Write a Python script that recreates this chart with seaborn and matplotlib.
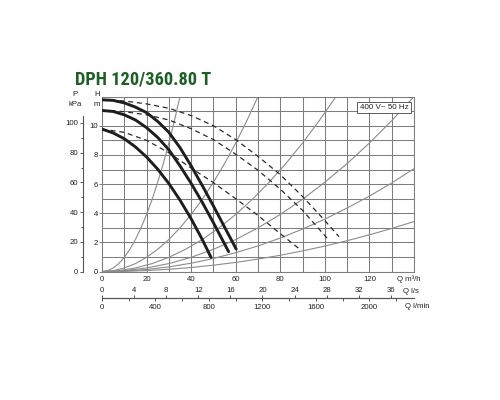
import os

import matplotlib
matplotlib.use("Agg")
import matplotlib.pyplot as plt
import seaborn as sns
from matplotlib import font_manager
from matplotlib.ticker import FixedLocator

sns.set_style("white")
plt.rcParams["font.family"] = ["Liberation Sans", "DejaVu Sans"]

# single pump curves (solid), Q in m3/h, H in m
q_max = [0, 5, 10, 15, 20, 25, 30, 35, 40, 45, 50, 55, 60.2]
h_max = [11.78, 11.74, 11.57, 11.28, 10.9, 10.3, 9.55, 8.5, 7.25, 5.9, 4.5, 3.05, 1.55]
q_mid = [0, 5, 10, 15, 20, 25, 30, 35, 40, 45, 50, 56.8]
h_mid = [11.05, 10.98, 10.75, 10.4, 9.87, 9.2, 8.35, 7.25, 6.05, 4.75, 3.35, 1.37]
q_min = [0, 5, 10, 15, 20, 25, 30, 35, 40, 45, 48.9]
h_min = [9.77, 9.51, 9.11, 8.55, 7.86, 7.02, 6.04, 4.9, 3.62, 2.2, 0.98]

# twin pump curves (dashed)
q_max2 = [0, 10, 20, 30, 40, 50, 60, 70, 80, 90, 100, 106.3]
h_max2 = [11.78, 11.7, 11.5, 11.2, 10.7, 10.0, 9.05, 7.9, 6.65, 5.15, 3.5, 2.4]
q_mid2 = [0, 10, 20, 30, 40, 50, 60, 70, 80, 90, 101.7]
h_mid2 = [11.05, 10.97, 10.75, 10.4, 9.8, 9.05, 8.05, 6.95, 5.65, 4.2, 2.17]
q_min2 = [0, 10, 20, 30, 40, 50, 60, 70, 80, 88.2]
h_min2 = [9.77, 9.55, 9.0, 8.15, 7.1, 6.1, 5.0, 3.85, 2.6, 1.6]

# system curves (thin grey)
sys_h = [0, 0.06, 0.25, 0.55, 0.98, 1.53, 2.2, 3.0, 3.92, 4.96, 6.13, 7.41, 8.82, 10.35, 12.0]
sys_q1 = [0, 2.5, 5, 7.5, 10, 12.5, 15, 17.5, 20, 22.5, 25, 27.5, 30, 32.5, 35]
sys_q2 = [0, 5, 10, 15, 20, 25, 30, 35, 40, 45, 50, 55, 60, 65, 70]
sys_q3 = [0, 7.5, 15, 22.5, 30, 37.5, 45, 52.5, 60, 67.5, 75, 82.5, 90, 97.5, 105]
sys_q4 = [0, 10, 20, 30, 40, 50, 60, 70, 80, 90, 100, 110, 120, 130, 140]
sys_h5 = [0, 0.036, 0.144, 0.324, 0.576, 0.9, 1.3, 1.76, 2.3, 2.92, 3.6, 4.36, 5.18, 6.08, 7.06]
sys_h6 = [0, 0.018, 0.07, 0.16, 0.28, 0.44, 0.63, 0.86, 1.12, 1.42, 1.75, 2.12, 2.52, 2.96, 3.43]

q_ticks = [0, 20, 40, 60, 80, 100, 120]
h_ticks = [0, 2, 4, 6, 8, 10]
p_ticks = [0, 20, 40, 60, 80, 100]
ls_ticks = [0, 4, 8, 12, 16, 20, 24, 28, 32, 36]
lmin_ticks = [0, 400, 800, 1200, 1600, 2000]

title = "DPH 120/360.80 T"
supply = "400 V~ 50 Hz"

grid_c = "#7d7d7d"
axis_c = "#555555"
text_c = "#222222"
fs = 5.6


def title_font():
    wanted = ["RobotoCondensed-Bold", "DejaVuSansCondensed-Bold", "LiberationSansNarrow-Bold",
              "NotoSans-CondensedBold", "OpenSans-CondensedBold", "OpenSans_Condensed-Bold"]
    files = {os.path.splitext(os.path.basename(f.fname))[0]: f.fname
             for f in font_manager.fontManager.ttflist}
    for w in wanted:
        if w in files:
            return font_manager.FontProperties(fname=files[w])
    return font_manager.FontProperties(family="Liberation Sans", weight="bold")


fig = plt.figure(figsize=(5, 4), dpi=100)
ax = fig.add_axes([0.204, 0.321, 0.624, 0.4375])

sys_curves = [(sys_q1, sys_h), (sys_q2, sys_h), (sys_q3, sys_h), (sys_q4, sys_h),
              (sys_q4, sys_h5), (sys_q4, sys_h6)]
for q, h in sys_curves:
    sns.lineplot(x=q, y=h, ax=ax, color="#8c8c8c", linewidth=0.8, sort=False, estimator=None, zorder=2)

for q, h in [(q_max2, h_max2), (q_mid2, h_mid2), (q_min2, h_min2)]:
    sns.lineplot(x=q, y=h, ax=ax, color="#2a2a2a", linewidth=0.9, linestyle=(0, (4, 3)),
                 sort=False, estimator=None, zorder=3)

for q, h in [(q_max, h_max), (q_mid, h_mid), (q_min, h_min)]:
    sns.lineplot(x=q, y=h, ax=ax, color="#1e1e1e", linewidth=2.1, sort=False, estimator=None, zorder=4)

ax.set_xlim(0, 140)
ax.set_ylim(0, 12)
ax.set_xlabel("")
ax.set_ylabel("")
ax.set_xticks(q_ticks)
ax.xaxis.set_minor_locator(FixedLocator(range(0, 141, 10)))
ax.set_yticks(h_ticks)
ax.yaxis.set_minor_locator(FixedLocator(range(0, 13)))
ax.set_axisbelow(True)
ax.grid(which="both", color=grid_c, linewidth=0.75)
ax.tick_params(axis="x", which="both", length=0, pad=3, labelsize=fs, labelcolor=text_c)
ax.tick_params(axis="y", which="major", length=2, width=0.7, color=grid_c, pad=1,
               labelsize=fs, labelcolor=text_c)
ax.tick_params(axis="y", which="minor", length=0)
for s in ax.spines.values():
    s.set_color(grid_c)
    s.set_linewidth(0.75)

# pressure scale in kPa on the far left
axp = ax.twinx()
axp.set_ylim(0, 12 * 9.81)
for side in ["right", "top", "bottom"]:
    axp.spines[side].set_visible(False)
axp.spines["left"].set_visible(True)
axp.spines["left"].set_position(("outward", 13.7))
axp.spines["left"].set_bounds(0, 105)
axp.spines["left"].set_color(axis_c)
axp.spines["left"].set_linewidth(0.8)
axp.yaxis.set_ticks_position("left")
axp.set_yticks(p_ticks)
axp.yaxis.set_minor_locator(FixedLocator([10, 30, 50, 70, 90]))
axp.tick_params(which="major", length=2.5, width=0.7, color=axis_c, pad=1, labelsize=fs, labelcolor=text_c)
axp.tick_params(which="minor", length=1.8, width=0.7, color=axis_c)
axp.grid(False)

# flow scales in l/s and l/min under the chart
sec_ls = ax.secondary_xaxis(-0.152, functions=(lambda q: q / 3.6, lambda v: v * 3.6))
sec_ls.set_alignment("top")
sec_ls.set_xticks(ls_ticks)
sec_ls.tick_params(axis="x", direction="out", length=2.5, width=0.7, color=axis_c, pad=0.5,
                   labelsize=fs, labelcolor=text_c)
sec_ls.spines["top"].set_color(axis_c)
sec_ls.spines["top"].set_linewidth(0.8)

sec_lm = ax.secondary_xaxis(-0.152, functions=(lambda q: q * 1000 / 60, lambda v: v * 60 / 1000))
sec_lm.set_xticks(lmin_ticks)
sec_lm.xaxis.set_minor_locator(FixedLocator([200, 600, 1000, 1400, 1800, 2200]))
sec_lm.tick_params(axis="x", which="major", direction="out", length=2.5, width=0.7, color=axis_c,
                   pad=1.5, labelsize=fs, labelcolor=text_c)
sec_lm.tick_params(axis="x", which="minor", direction="out", length=2, width=0.7, color=axis_c)
sec_lm.spines["bottom"].set_color(axis_c)
sec_lm.spines["bottom"].set_linewidth(0.8)

# unit labels
tkw = dict(transform=ax.transAxes, fontsize=fs, color=text_c, va="center")
ax.text(0.946, -0.042, "Q m³/h", ha="left", **tkw)
ax.text(0.965, -0.114, "Q l/s", ha="left", **tkw)
ax.text(0.971, -0.202, "Q l/min", ha="left", **tkw)
ax.text(-0.017, 1.012, "H", ha="center", **tkw)
ax.text(-0.017, 0.955, "m", ha="center", **tkw)
ax.text(-0.0865, 1.012, "P", ha="center", **tkw)
ax.text(-0.0865, 0.955, "kPa", ha="center", **tkw)

ax.text(0.904, 0.938, supply, transform=ax.transAxes, ha="center", va="center", fontsize=5.8,
        color=text_c, zorder=6,
        bbox=dict(boxstyle="square,pad=0.3", fc="white", ec="#444444", lw=0.6))

fp = title_font()
t = fig.text(0.15, 0.789, title, fontproperties=fp, fontsize=15, color="#1d5f25", va="baseline")
fig.canvas.draw()
w = t.get_window_extent().width
t.set_fontsize(15 * 137 / w)

fig.savefig("out.png", dpi=100)
plt.close()
